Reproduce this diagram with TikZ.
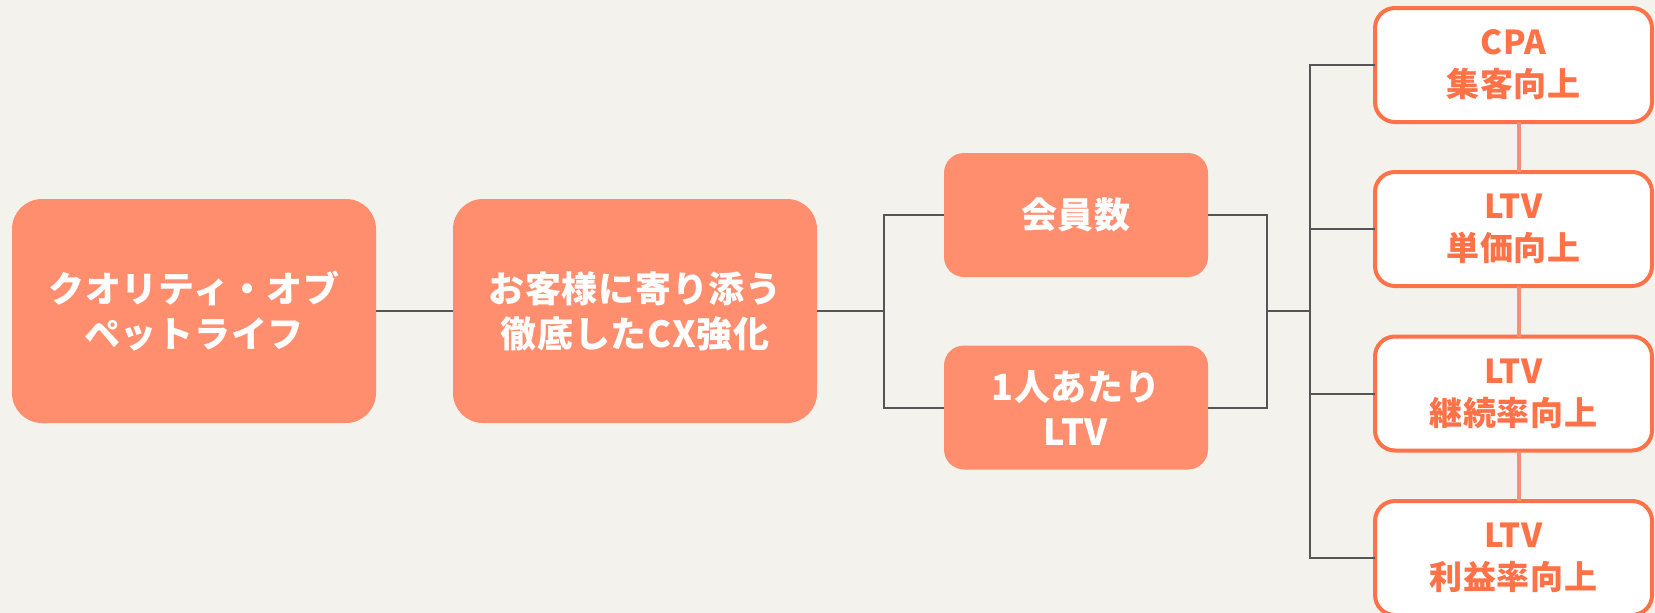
\documentclass[tikz,border=0pt]{standalone}
\usepackage{fontspec}
\newfontfamily\jp{Noto Sans CJK JP}[LetterSpace=2]
\definecolor{bgc}{HTML}{F3F2ED}
\definecolor{salmon}{HTML}{FF8E6E}
\definecolor{orng}{HTML}{FF7146}
\definecolor{lorng}{HTML}{F4907A}
\definecolor{dk}{HTML}{555555}
\tikzset{
  fillbox/.style={fill=salmon, rounded corners=30pt, inner sep=0pt, outer sep=0pt,
    text=white, align=center, font=\jp\bfseries\fontsize{36}{45}\selectfont},
  midbox/.style={fillbox, rounded corners=20pt, minimum width=264pt, minimum height=124pt},
  bigbox/.style={fillbox, minimum width=364pt, minimum height=224pt},
  whitebox/.style={draw=orng, line width=4pt, fill=white, rounded corners=20pt,
    inner sep=0pt, outer sep=0pt, minimum width=277pt, minimum height=114pt,
    text=orng, align=center, font=\jp\bfseries\fontsize{33}{42}\selectfont},
  dkline/.style={draw=dk, line width=2pt},
  orline/.style={draw=lorng, line width=4pt}
}
\begin{document}
\begin{tikzpicture}[x=1pt,y=-1pt]
\fill[bgc] (0,0) rectangle (1655,613);
\useasboundingbox (0,0) rectangle (1655,613);

\node[bigbox] (b1) at (194,311) {クオリティ・オブ\\ペットライフ};
\node[bigbox] (b2) at (635,311) {お客様に寄り添う\\徹底したCX強化};
\node[midbox] (m1) at (1076,215) {会員数};
\node[midbox] (m2) at (1076,407.5) {1人あたり\\LTV};

\coordinate (jL) at (884,311);
\coordinate (jR) at (1267,311);
\coordinate (jR2) at (1310,311);

\draw[dkline] (b1.east) -- (b2.west);
\draw[dkline] (b2.east) -- (jL);
\draw[dkline] (m1.west) -| (jL) |- (m2.west);
\draw[dkline] (m1.east) -| (jR) |- (m2.east);
\draw[dkline] (jR) -- (jR2);

\node[whitebox] (wA) at (1513.5,65) {CPA\\集客向上};
\node[whitebox] (wB) at (1513.5,229) {LTV\\単価向上};
\node[whitebox] (wC) at (1513.5,393.5) {LTV\\継続率向上};
\node[whitebox] (wD) at (1513.5,558) {LTV\\利益率向上};

\draw[dkline] (wA.west) -| (jR2);
\draw[dkline] (wD.west) -| (jR2);
\draw[dkline] (jR2 |- wB.west) -- (wB.west);
\draw[dkline] (jR2 |- wC.west) -- (wC.west);

\draw[orline] ([xshift=5pt]wA.south) -- ([xshift=5pt]wB.north);
\draw[orline] ([xshift=5pt]wB.south) -- ([xshift=5pt]wC.north);
\draw[orline] ([xshift=5pt]wC.south) -- ([xshift=5pt]wD.north);
\end{tikzpicture}
\end{document}
